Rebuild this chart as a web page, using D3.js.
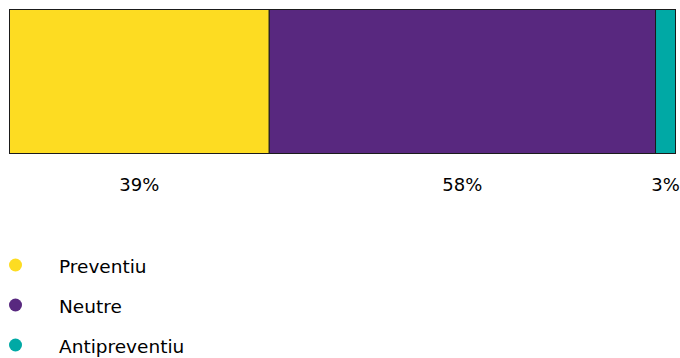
<!DOCTYPE html>
<html>
<head>
<meta charset="utf-8">
<script src="https://cdn.jsdelivr.net/npm/d3@7"></script>
<style>
  html, body { margin: 0; padding: 0; background: #ffffff; }
  svg { display: block; }
  text { font-family: "DejaVu Sans", sans-serif; fill: #000000; }
</style>
</head>
<body>
<svg id="chart" width="680" height="358"></svg>
<script>
// Share of responses per attitude (percent)
const categories = ["Preventiu", "Neutre", "Antipreventiu"];
const values = [39, 58, 3];
const colors = ["#FDDC22", "#58287F", "#00A9A5"];

const svg = d3.select("#chart");
const bar = { left: 9.5, right: 675.5, top: 9.5, bottom: 153.5 };

// cumulative starts for the stacked bar
const stacked = [];
let acc = 0;
values.forEach((v, i) => {
  stacked.push({ name: categories[i], value: v, x0: acc, x1: acc + v, color: colors[i] });
  acc += v;
});

const x = d3.scaleLinear().domain([0, acc]).range([bar.left, bar.right]);

svg.selectAll("rect.seg")
  .data(stacked)
  .join("rect")
  .attr("class", "seg")
  .attr("x", d => x(d.x0))
  .attr("y", bar.top)
  .attr("width", d => x(d.x1) - x(d.x0))
  .attr("height", bar.bottom - bar.top)
  .attr("fill", d => d.color)
  .attr("stroke", "#1b1b1b")
  .attr("stroke-width", 1);

// value labels centred under each segment
svg.selectAll("text.val")
  .data(stacked)
  .join("text")
  .attr("class", "val")
  .attr("x", d => (x(d.x0) + x(d.x1)) / 2)
  .attr("y", 191)
  .attr("text-anchor", "middle")
  .attr("font-size", 18)
  .text(d => d.value + "%");

// legend
const legend = svg.selectAll("g.leg")
  .data(stacked)
  .join("g")
  .attr("class", "leg")
  .attr("transform", (d, i) => `translate(0, ${265 + i * 40})`);

legend.append("circle")
  .attr("cx", 15.5)
  .attr("cy", 0)
  .attr("r", 6.5)
  .attr("fill", d => d.color);

legend.append("text")
  .attr("x", 59)
  .attr("y", 7.5)
  .attr("font-size", 18.5)
  .text(d => d.name);
</script>
</body>
</html>
